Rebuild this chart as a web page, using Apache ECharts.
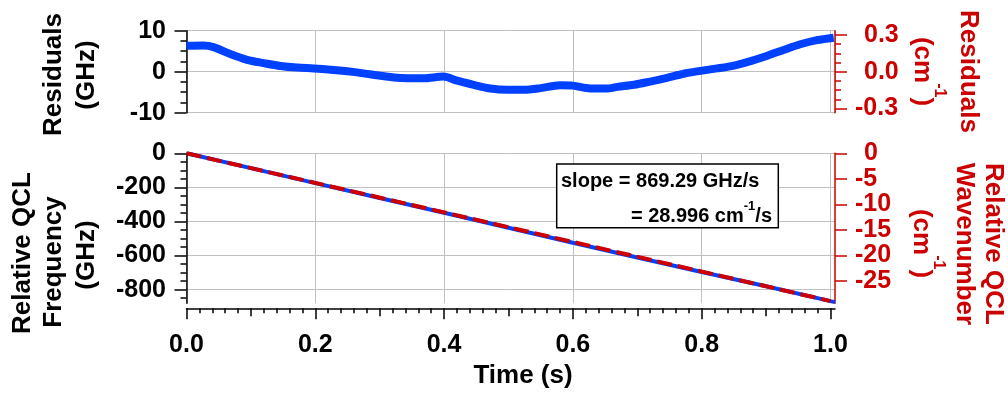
<!DOCTYPE html>
<html><head><meta charset="utf-8">
<script src="https://cdn.jsdelivr.net/npm/echarts@6/dist/echarts.min.js"></script>
<style>html,body{margin:0;padding:0;background:#fff}#c{width:1008px;height:394px}</style>
</head><body><div id="c"></div>
<script>
// ---- data ----
const resTime = [0, 0.026, 0.042, 0.068, 0.094, 0.12, 0.146, 0.172, 0.198, 0.224, 0.25, 0.275, 0.301, 0.327, 0.342, 0.368, 0.399, 0.42, 0.446, 0.472, 0.498, 0.524, 0.55, 0.58, 0.6, 0.627, 0.653, 0.669, 0.695, 0.72, 0.746, 0.772, 0.798, 0.824, 0.85, 0.876, 0.902, 0.927, 0.953, 0.979, 1.005];
const resGHz  = [6.3, 6.4, 6.0, 4.3, 2.9, 2.1, 1.4, 1.0, 0.8, 0.5, 0.1, -0.4, -1.0, -1.5, -1.6, -1.6, -1.2, -2.2, -3.2, -4.1, -4.4, -4.4, -4.0, -3.3, -3.4, -4.1, -4.1, -3.7, -3.2, -2.4, -1.5, -0.5, 0.2, 0.8, 1.5, 2.6, 3.9, 5.3, 6.7, 7.7, 8.3];
const freqTime = [0, 0.1, 0.2, 0.3, 0.4, 0.5, 0.6, 0.7, 0.8, 0.9, 1.0, 1.007];
const freqGHz  = [0, -87, -175, -262, -349, -437, -525, -611, -696, -780, -867, -873];
const fitTime = [0, 1.0];
const fitGHz  = [0, -867];

// ---- axis ranges and tick labels ----
const tRange = [0, 1.007];
const resGHzRange = [-10, 10];
const resCmRange = [-0.33356, 0.33356];
const freqRange = [-880, 0];
const waveRange = [-29.354, 0];
const xMajor = [0, 0.2, 0.4, 0.6, 0.8, 1.0];
const xMid = [0.1, 0.3, 0.5, 0.7, 0.9];
const xMinor = [];
for (let i = 1; i < 50; i++) { if (i % 5 !== 0) xMinor.push(+(i * 0.02).toFixed(2)); }
const resRightMajor = [-0.3, 0, 0.3];
const resRightMinor = [-0.225, -0.15, -0.075, 0.075, 0.15, 0.225];
const freqLeftMajor = [0, -200, -400, -600, -800];
const freqLeftMinor = [-50, -100, -150, -250, -300, -350, -450, -500, -550, -650, -700, -750, -850];
const waveRightMajor = [0, -5, -10, -15, -20, -25];

const FONT = 'Liberation Sans';
const RED = '#cc0000';
const BLUE = '#0040ff';
const GRIDC = '#c0c0c0';
const TICKFS = 25, TITLEFS = 26;

const chart = echarts.init(document.getElementById('c'), null, {renderer: 'canvas'});
const zip = (a, b) => a.map((v, i) => [v, b[i]]);
const lbl = (color, extra) => Object.assign({fontFamily: FONT, fontSize: TICKFS, fontWeight: 'bold', color: color}, extra || {});
const richRight = {
  n: {fontFamily: FONT, fontSize: TICKFS, fontWeight: 'bold', color: RED},
  p: {fontFamily: FONT, fontSize: TICKFS, fontWeight: 'bold', color: RED, padding: [0, 0, 0, 9]}
};
const hidden = {axisLine: {show: false, onZero: false}, axisLabel: {show: false}, splitLine: {show: false}};

function overlayY(grid, pos, range, vals, len, color) {
  return Object.assign({gridIndex: grid, type: 'value', position: pos, min: range[0], max: range[1],
    axisTick: {show: true, customValues: vals, length: len, lineStyle: {color: color, width: 1.5}}}, JSON.parse(JSON.stringify(hidden)));
}
function overlayX(vals, len) {
  return Object.assign({gridIndex: 1, type: 'value', position: 'bottom', offset: 5, min: tRange[0], max: tRange[1],
    axisTick: {show: true, customValues: vals, length: len, lineStyle: {color: '#000', width: 1.5}}}, JSON.parse(JSON.stringify(hidden)));
}

function title(text, x, y, rot, color, rich) {
  return {type: 'text', x: x, y: y, rotation: rot, silent: true,
    style: {text: text, fontFamily: FONT, fontSize: TITLEFS, fontWeight: 'bold', fill: color,
      align: 'center', verticalAlign: 'middle', rich: rich}};
}
const supRich = (color, fs, sfs, raise) => ({
  a: {fontFamily: FONT, fontSize: fs, fontWeight: 'bold', color: color, lineHeight: fs + 4, verticalAlign: 'bottom'},
  s: {fontFamily: FONT, fontSize: sfs, fontWeight: 'bold', color: color, lineHeight: sfs, padding: [0, 0, raise, 0], verticalAlign: 'bottom'}
});

const option = {
  animation: false,
  backgroundColor: '#fff',
  grid: [
    {left: 186.5, top: 30.7, width: 648.5, height: 82, outerBoundsMode: 'none', containLabel: false},
    {left: 186.5, top: 153.3, width: 648.5, height: 150, outerBoundsMode: 'none', containLabel: false}
  ],
  xAxis: [
    {gridIndex: 0, type: 'value', min: tRange[0], max: tRange[1], interval: 0.2,
      axisLine: {show: false, onZero: false}, axisTick: {show: false}, axisLabel: {show: false},
      splitLine: {show: true, lineStyle: {color: GRIDC, width: 1}}},
    {gridIndex: 1, type: 'value', position: 'bottom', offset: 5, min: tRange[0], max: tRange[1], interval: 0.2,
      axisLine: {show: true, onZero: false, lineStyle: {color: '#000', width: 1.5}},
      axisTick: {show: true, customValues: xMajor, length: 11, lineStyle: {color: '#000', width: 1.5}},
      axisLabel: lbl('#000', {customValues: xMajor, margin: 24, formatter: v => v.toFixed(1)}),
      splitLine: {show: true, lineStyle: {color: GRIDC, width: 1}}},
    overlayX(xMid, 8),
    overlayX(xMinor, 5)
  ],
  yAxis: [
    {gridIndex: 0, type: 'value', position: 'left', min: resGHzRange[0], max: resGHzRange[1], interval: 10,
      axisLine: {show: true, onZero: false, lineStyle: {color: '#000', width: 1.5}},
      axisTick: {show: true, length: 12, lineStyle: {color: '#000', width: 1.5}},
      minorTick: {show: true, splitNumber: 4, length: 6, lineStyle: {color: '#000', width: 1.5}},
      axisLabel: lbl('#000', {margin: 20.5}),
      splitLine: {show: true, lineStyle: {color: GRIDC, width: 1}}},
    {gridIndex: 0, type: 'value', position: 'right', min: resCmRange[0], max: resCmRange[1],
      axisLine: {show: true, onZero: false, lineStyle: {color: RED, width: 1.5}},
      axisTick: {show: true, customValues: resRightMajor, length: 12, lineStyle: {color: RED, width: 1.5}},
      axisLabel: lbl(RED, {customValues: resRightMajor, margin: 20, rich: richRight,
        formatter: v => (v < 0 ? '{n|' : '{p|') + v.toFixed(1) + '}'}),
      splitLine: {show: false}},
    overlayY(0, 'right', resCmRange, resRightMinor, 6, RED),
    {gridIndex: 1, type: 'value', position: 'left', min: freqRange[0], max: freqRange[1],
      axisLine: {show: true, onZero: false, lineStyle: {color: '#000', width: 1.5}},
      axisTick: {show: true, customValues: freqLeftMajor, length: 12, lineStyle: {color: '#000', width: 1.5}},
      axisLabel: lbl('#000', {customValues: freqLeftMajor, margin: 20.5}),
      splitLine: {show: true, lineStyle: {color: GRIDC, width: 1}}},
    overlayY(1, 'left', freqRange, freqLeftMinor, 6, '#000'),
    {gridIndex: 1, type: 'value', position: 'right', min: waveRange[0], max: waveRange[1],
      axisLine: {show: true, onZero: false, lineStyle: {color: RED, width: 1.5}},
      axisTick: {show: true, customValues: waveRightMajor, length: 12, lineStyle: {color: RED, width: 1.5}},
      axisLabel: lbl(RED, {customValues: waveRightMajor, margin: 20, rich: richRight,
        formatter: v => (v < 0 ? '{n|' : '{p|') + String(v) + '}'}),
      splitLine: {show: false}}
  ],
  series: [
    {type: 'line', xAxisIndex: 0, yAxisIndex: 0, data: zip(resTime, resGHz), showSymbol: false, smooth: 0.3,
      lineStyle: {color: BLUE, width: 8}, z: 3},
    {type: 'line', xAxisIndex: 1, yAxisIndex: 3, data: zip(freqTime, freqGHz), showSymbol: false,
      lineStyle: {color: BLUE, width: 4}, z: 3},
    {type: 'line', xAxisIndex: 1, yAxisIndex: 3, data: zip(fitTime, fitGHz), showSymbol: false,
      lineStyle: {color: RED, width: 4, type: [15, 6]}, z: 4}
  ],
  graphic: [
    title('Residuals', 54, 74.5, Math.PI / 2, '#000'),
    title('(GHz)', 87, 75, Math.PI / 2, '#000'),
    title('Relative QCL', 22.5, 253, Math.PI / 2, '#000'),
    title('Frequency', 54, 262, Math.PI / 2, '#000'),
    title('(GHz)', 87, 255, Math.PI / 2, '#000'),
    title('Time (s)', 523, 376, 0, '#000'),
    title('Residuals', 968, 71.5, -Math.PI / 2, RED),
    title('{a|(cm}{s|-1}{a|)}', 924, 71.5, -Math.PI / 2, RED, supRich(RED, TITLEFS, 16, 22)),
    title('Relative QCL', 993, 244, -Math.PI / 2, RED),
    title('Wavenumber', 964, 244, -Math.PI / 2, RED),
    title('{a|(cm}{s|-1}{a|)}', 923, 243.5, -Math.PI / 2, RED, supRich(RED, TITLEFS, 16, 22)),
    {type: 'rect', shape: {x: 556.7, y: 164, width: 221.6, height: 63.7}, silent: true, z: 10,
      style: {fill: '#fff', stroke: '#000', lineWidth: 1.5}},
    {type: 'text', x: 561, y: 181.5, z: 11, silent: true,
      style: {text: 'slope = 869.29 GHz/s', fontFamily: FONT, fontSize: 20, fontWeight: 'bold', fill: '#000', align: 'left', verticalAlign: 'middle'}},
    {type: 'text', x: 772, y: 214, z: 11, silent: true,
      style: {text: '{a|= 28.996 cm}{s|-1}{a|/s}', align: 'right', verticalAlign: 'middle', rich: supRich('#000', 20, 13, 13)}}
  ]
};
chart.setOption(option);
</script>
</body></html>
